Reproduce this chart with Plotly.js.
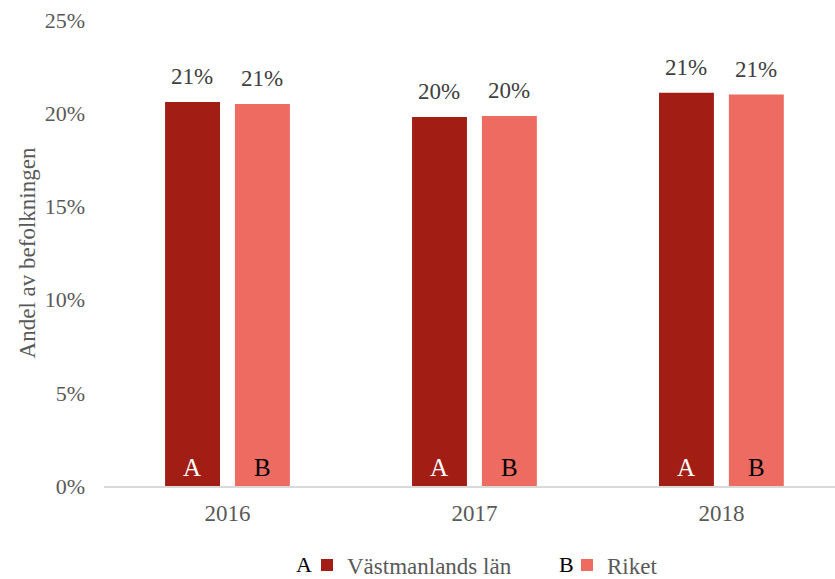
<!DOCTYPE html>
<html>
<head>
<meta charset="utf-8">
<script src="https://cdn.plot.ly/plotly-3.0.1.min.js"></script>
<style>html,body{margin:0;padding:0;background:#fff;}#chart{width:835px;height:579px;}</style>
</head>
<body>
<div id="chart"></div>
<script>
const years = ['2016', '2017', '2018'];
const vastmanland = [20.6, 19.8, 21.1];
const riket = [20.5, 19.85, 21.0];
const seriesNames = ['Västmanlands län', 'Riket'];
const seriesLetters = ['A', 'B'];
const yTicks = [0, 5, 10, 15, 20, 25];
const yTickText = yTicks.map(function (v) { return v + '%'; });

const FONT = 'Liberation Serif';
const colA = '#A21D14';
const colB = '#EE6B61';
const TXT = '#595959';

const traces = [
  {type: 'bar', name: seriesNames[0], x: years, y: vastmanland, marker: {color: colA}, hoverinfo: 'x+y'},
  {type: 'bar', name: seriesNames[1], x: years, y: riket, marker: {color: colB}, hoverinfo: 'x+y'}
];

const W = 835, H = 579;
const ml = 104, mr = 0, mt = 20, mb = 93;
const pw = W - ml - mr, ph = H - mt - mb;
function px2paperX(px) { return (px - ml) / pw; }
function px2paperY(py) { return (H - mb - py) / ph; }

const annotations = [];
const series = [vastmanland, riket];
const shifts = [-35, 35];
const letterColors = ['#ffffff', '#000000'];
series.forEach(function (vals, s) {
  vals.forEach(function (v, i) {
    // value label above bar
    annotations.push({x: i, y: v, xref: 'x', yref: 'y', text: Math.round(v) + '%', showarrow: false,
      xshift: shifts[s], yanchor: 'bottom', yshift: 11, font: {family: FONT, size: 23, color: '#404040'}});
    // letter inside bar base
    annotations.push({x: i, y: 0, xref: 'x', yref: 'y', text: seriesLetters[s], showarrow: false,
      xshift: shifts[s], yanchor: 'bottom', yshift: 3, font: {family: FONT, size: 25, color: letterColors[s]}});
  });
});
// letters in front of legend entries
annotations.push({xref: 'paper', yref: 'paper', x: px2paperX(304), y: px2paperY(564), text: seriesLetters[0],
  showarrow: false, xanchor: 'center', yanchor: 'middle', font: {family: FONT, size: 22, color: '#000'}});
annotations.push({xref: 'paper', yref: 'paper', x: px2paperX(566), y: px2paperY(564), text: seriesLetters[1],
  showarrow: false, xanchor: 'center', yanchor: 'middle', font: {family: FONT, size: 22, color: '#000'}});

const layout = {
  width: W, height: H,
  margin: {l: ml, r: mr, t: mt, b: mb, pad: 0},
  paper_bgcolor: '#ffffff', plot_bgcolor: '#ffffff',
  font: {family: FONT, size: 22, color: TXT},
  barmode: 'group', bargap: 0.434, bargroupgap: 0.214,
  showlegend: true,
  legend: {orientation: 'h', xref: 'container', yref: 'container', x: 307 / W, xanchor: 'left',
    y: (H - 565) / H, yanchor: 'middle', font: {family: FONT, size: 23, color: TXT},
    entrywidth: 215, entrywidthmode: 'pixels', itemclick: false, itemdoubleclick: false},
  xaxis: {type: 'category', range: [-0.5, 2.46], showline: true, linecolor: '#d9d9d9', linewidth: 2,
    ticks: '', showgrid: false, zeroline: false, ticklabelstandoff: 5,
    tickfont: {family: FONT, size: 23, color: TXT}},
  yaxis: {range: [0, 25], tickvals: yTicks, ticktext: yTickText, showgrid: false, zeroline: false,
    showline: false, ticks: '', ticklabelstandoff: 18,
    tickfont: {family: FONT, size: 22, color: TXT},
    title: {text: 'Andel av befolkningen', standoff: 2, font: {family: FONT, size: 23, color: TXT}}},
  annotations: annotations
};

Plotly.newPlot('chart', traces, layout, {displayModeBar: false});
</script>
</body>
</html>
